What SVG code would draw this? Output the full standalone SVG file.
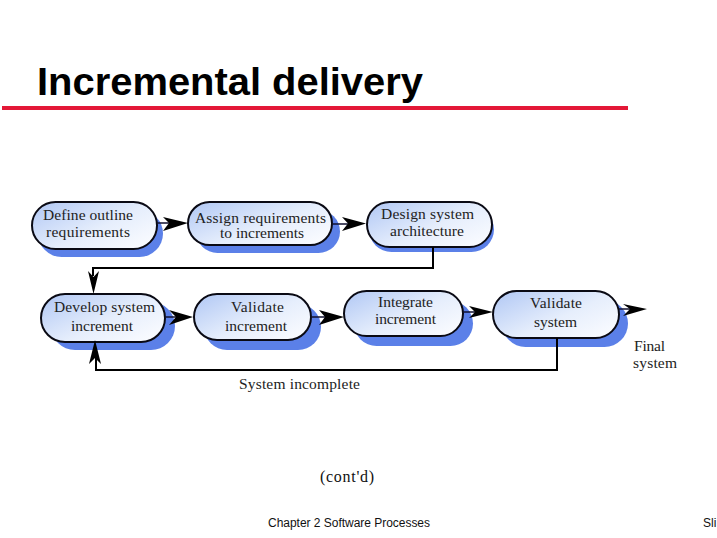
<svg xmlns="http://www.w3.org/2000/svg" width="717" height="538" viewBox="0 0 717 538">
<style>
.n{fill:url(#g);stroke:#0a0a14;stroke-width:2}
.s{fill:#5b80e8}
.t{font-family:"Liberation Serif","Times New Roman",serif;font-size:15.500px;fill:#222}
.f{font-family:"Liberation Sans",Arial,sans-serif;font-size:12px;fill:#111}
.c{fill:none;stroke:#000;stroke-width:2}
.b{fill:none;stroke:#101030;stroke-width:1.300}
.h{fill:#000}
</style>
<defs>
<linearGradient id="g" x1="0" y1="0.1" x2="1" y2="0.9">
<stop offset="0" stop-color="#b4caf5"/>
<stop offset="0.55" stop-color="#e6eefc"/>
<stop offset="1" stop-color="#fbfcff"/>
</linearGradient>
</defs>
<rect width="717" height="538" fill="#fff"/>
<text x="37" y="95" font-family="'Liberation Sans',Arial,sans-serif" font-weight="700" font-size="38.500px" fill="#000" textLength="386" lengthAdjust="spacingAndGlyphs">Incremental delivery</text>
<rect x="2" y="106" width="626" height="4" fill="#e31837"/>
<g id="n1"><rect class="s" x="38" y="210" width="125" height="47" rx="23.500"/><rect class="n" x="32" y="202" width="125" height="47" rx="23.500"/><text class="t" x="43" y="220" textLength="90">Define outline</text><text class="t" x="46" y="237" textLength="84">requirements</text></g>
<g id="n2"><rect class="s" x="196" y="210" width="144" height="43" rx="21.500"/><rect class="n" x="188" y="202" width="144" height="43" rx="21.500"/><text class="t" x="195" y="222.500" textLength="131">Assign requirements</text><text class="t" x="220" y="238" textLength="84">to increments</text></g>
<g id="n3"><rect class="s" x="369" y="207" width="125" height="45" rx="22.500"/><rect class="n" x="367" y="202" width="125" height="45" rx="22.500"/><text class="t" x="381" y="219" textLength="93">Design system</text><text class="t" x="390" y="236" textLength="74">architecture</text></g>
<g id="n4"><rect class="s" x="51" y="302" width="124" height="48" rx="24"/><rect class="n" x="41" y="294" width="124" height="48" rx="24"/><text class="t" x="54" y="312" textLength="101">Develop system</text><text class="t" x="71" y="331" textLength="62">increment</text></g>
<g id="n5"><rect class="s" x="204" y="304" width="117" height="46" rx="23"/><rect class="n" x="194" y="294" width="117" height="46" rx="23"/><text class="t" x="231" y="312" textLength="53">Validate</text><text class="t" x="225" y="331" textLength="62">increment</text></g>
<g id="n6"><rect class="s" x="354" y="301" width="119" height="45" rx="22.500"/><rect class="n" x="344" y="291" width="119" height="45" rx="22.500"/><text class="t" x="378" y="307" textLength="55">Integrate</text><text class="t" x="375" y="324" textLength="61">increment</text></g>
<g id="n7"><rect class="s" x="502" y="300" width="126" height="47" rx="23.500"/><rect class="n" x="493" y="291" width="126" height="47" rx="23.500"/><text class="t" x="530" y="308" textLength="52">Validate</text><text class="t" x="534" y="327" textLength="43">system</text></g>
<g id="connectors">
<path class="c" d="M433 247V268H93V276M557 338V370H96V355"/>
<path class="b" d="M157 223H170M332 224H348M165 317H176M311 317H325M463 312H475M619 309H630"/>
<polygon class="h" points="188,223 163,217 169,223 163,231"/>
<polygon class="h" points="366,223.500 342,217 348,223.500 342,231"/>
<polygon class="h" points="193,317 169,310 176,317 169,325"/>
<polygon class="h" points="344,317 319,310 325,317 319,325"/>
<polygon class="h" points="493,312 469,306 475,312 469,318"/>
<polygon class="h" points="647,309 623,304 630,309 623,316"/>
<polygon class="h" points="93.500,294 88,271 93.500,277 99,271"/>
<polygon class="h" points="95,340 89,364 95,358 101,364"/>
</g>
<text class="t" x="634" y="351" textLength="31">Final</text>
<text class="t" x="633" y="368" textLength="44">system</text>
<text class="t" x="239" y="389" textLength="121">System incomplete</text>
<text class="t" x="320" y="482" textLength="54" style="font-size:16px;fill:#111">(cont'd)</text>
<text class="f" x="268" y="527" textLength="162">Chapter 2 Software Processes</text>
<text class="f" x="703" y="527">Sli</text>
</svg>
